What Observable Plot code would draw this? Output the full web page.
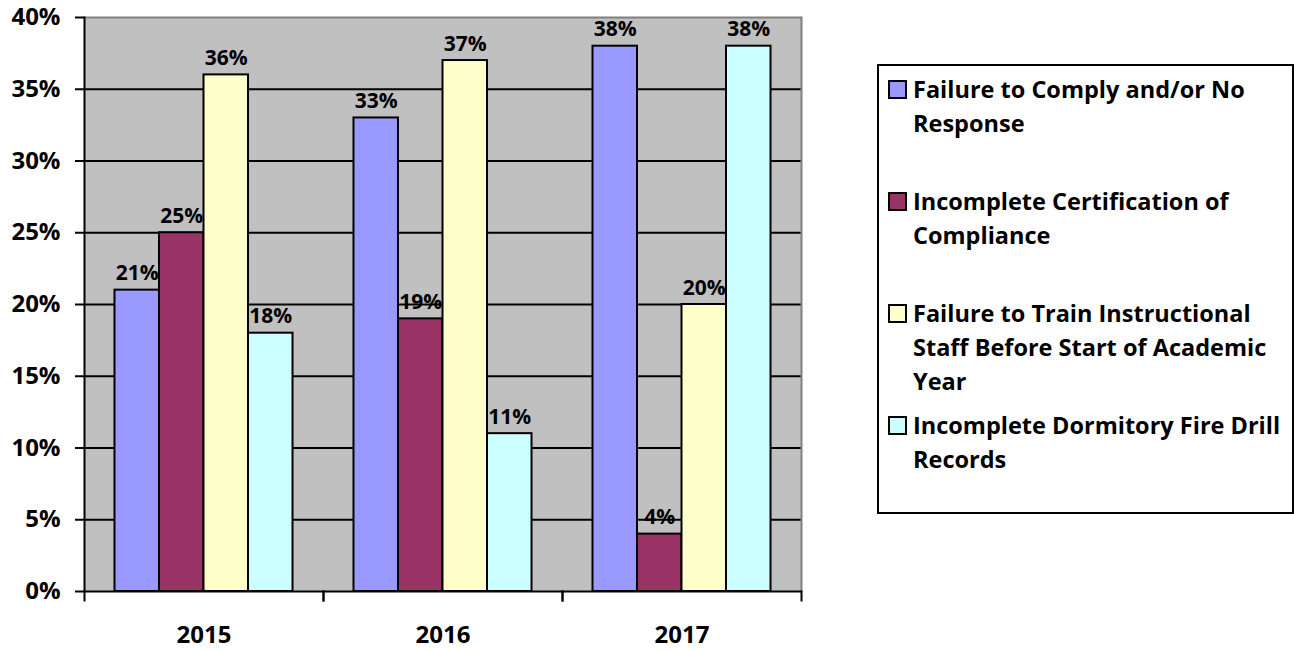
<!DOCTYPE html>
<html>
<head>
<meta charset="utf-8">
<script src="https://cdn.jsdelivr.net/npm/d3@7"></script>
<script src="https://cdn.jsdelivr.net/npm/@observablehq/plot@0.6"></script>
<style>
  html, body { margin: 0; padding: 0; background: #fff; }
  #wrap { position: relative; width: 1294px; height: 653px; font-family: "Open Sans", Lato, sans-serif; }
  #chart { position: absolute; left: 0; top: 0; }
  #legend { position: absolute; left: 877px; top: 64px; width: 413px; height: 446px; border: 2px solid #000; background: #fff; }
  .item { position: absolute; left: 34px; font-weight: 700; font-size: 23.5px; line-height: 34px; color: #000; white-space: nowrap; }
  .sw { position: absolute; left: -25px; top: 8px; width: 15px; height: 15px; border: 2px solid #000; }
</style>
</head>
<body>
<div id="wrap">
  <div id="chart"></div>
  <div id="legend"></div>
</div>
<script>
const years = ["2015", "2016", "2017"];
const series = [
  "Failure to Comply and/or No Response",
  "Incomplete Certification of Compliance",
  "Failure to Train Instructional Staff Before Start of Academic Year",
  "Incomplete Dormitory Fire Drill Records"
];
const legendLines = [
  ["Failure to Comply and/or No", "Response"],
  ["Incomplete Certification of", "Compliance"],
  ["Failure to Train Instructional", "Staff Before Start of Academic", "Year"],
  ["Incomplete Dormitory Fire Drill", "Records"]
];
const colors = ["#9999FF", "#993366", "#FFFFCC", "#CCFFFF"];
const values2015 = [21, 25, 36, 18];
const values2016 = [33, 19, 37, 11];
const values2017 = [38, 4, 20, 38];
const yTicks = [0, 5, 10, 15, 20, 25, 30, 35, 40];

const allValues = [values2015, values2016, values2017];
const data = [];
years.forEach((y, yi) => series.forEach((s, si) => data.push({year: y, series: s, value: allValues[yi][si]})));

const font = "'Open Sans', Lato, sans-serif";
const W = 840, H = 653;
const mL = 84, mT = 17, mR = 39, mB = 62;

const plot = Plot.plot({
  width: W,
  height: H,
  marginLeft: mL,
  marginRight: mR,
  marginTop: mT,
  marginBottom: mB,
  style: {fontFamily: font, background: "transparent", overflow: "visible"},
  fx: {domain: years, padding: 0, label: null, axis: null},
  x: {domain: series, paddingInner: 0, paddingOuter: 0.685, round: false, axis: null},
  y: {domain: [0, 40], axis: null},
  color: {domain: series, range: colors},
  marks: [
    Plot.frame({fill: "#C0C0C0", stroke: null, facet: "super"}),
    Plot.ruleY(yTicks.filter(t => t > 0 && t < 40), {stroke: "#000", strokeWidth: 2}),
    Plot.ruleY([40], {stroke: "#808080", strokeWidth: 2}),
    Plot.frame({anchor: "right", stroke: "#808080", strokeWidth: 2, facet: "super"}),
    Plot.barY(data, {fx: "year", x: "series", y: "value", fill: "series", stroke: "#000", strokeWidth: 2}),
    Plot.text(data, {fx: "year", x: "series", y: "value", text: d => d.value + "%", dy: -10, lineAnchor: "bottom",
      fontSize: 21, fontWeight: 700, fill: "#000"}),
    Plot.ruleY([0], {stroke: "#000", strokeWidth: 2}),
    Plot.frame({anchor: "left", stroke: "#000", strokeWidth: 2, facet: "super"}),
    Plot.frame({anchor: "left", stroke: "#000", strokeWidth: 2, insetTop: H - mT - mB, insetBottom: -9}),
    Plot.frame({anchor: "right", stroke: "#000", strokeWidth: 2, insetTop: H - mT - mB, insetBottom: -9}),
    Plot.axisY({ticks: yTicks, tickFormat: d => d + "%", tickSize: 9, tickPadding: 15, fontSize: 24, fontWeight: 700,
      stroke: "#000", strokeWidth: 2, label: null, color: "#000"}),
    Plot.axisFx({anchor: "bottom", tickSize: 0, tickPadding: 34, fontSize: 24, fontWeight: 700, label: null, color: "#000"})
  ]
});
document.getElementById("chart").appendChild(plot);

const legend = document.getElementById("legend");
legendLines.forEach((lines, i) => {
  const item = document.createElement("div");
  item.className = "item";
  item.style.top = (6 + 112 * i) + "px";
  item.innerHTML = lines.join("<br>");
  const sw = document.createElement("div");
  sw.className = "sw";
  sw.style.background = colors[i];
  item.appendChild(sw);
  legend.appendChild(item);
});
</script>
</body>
</html>
